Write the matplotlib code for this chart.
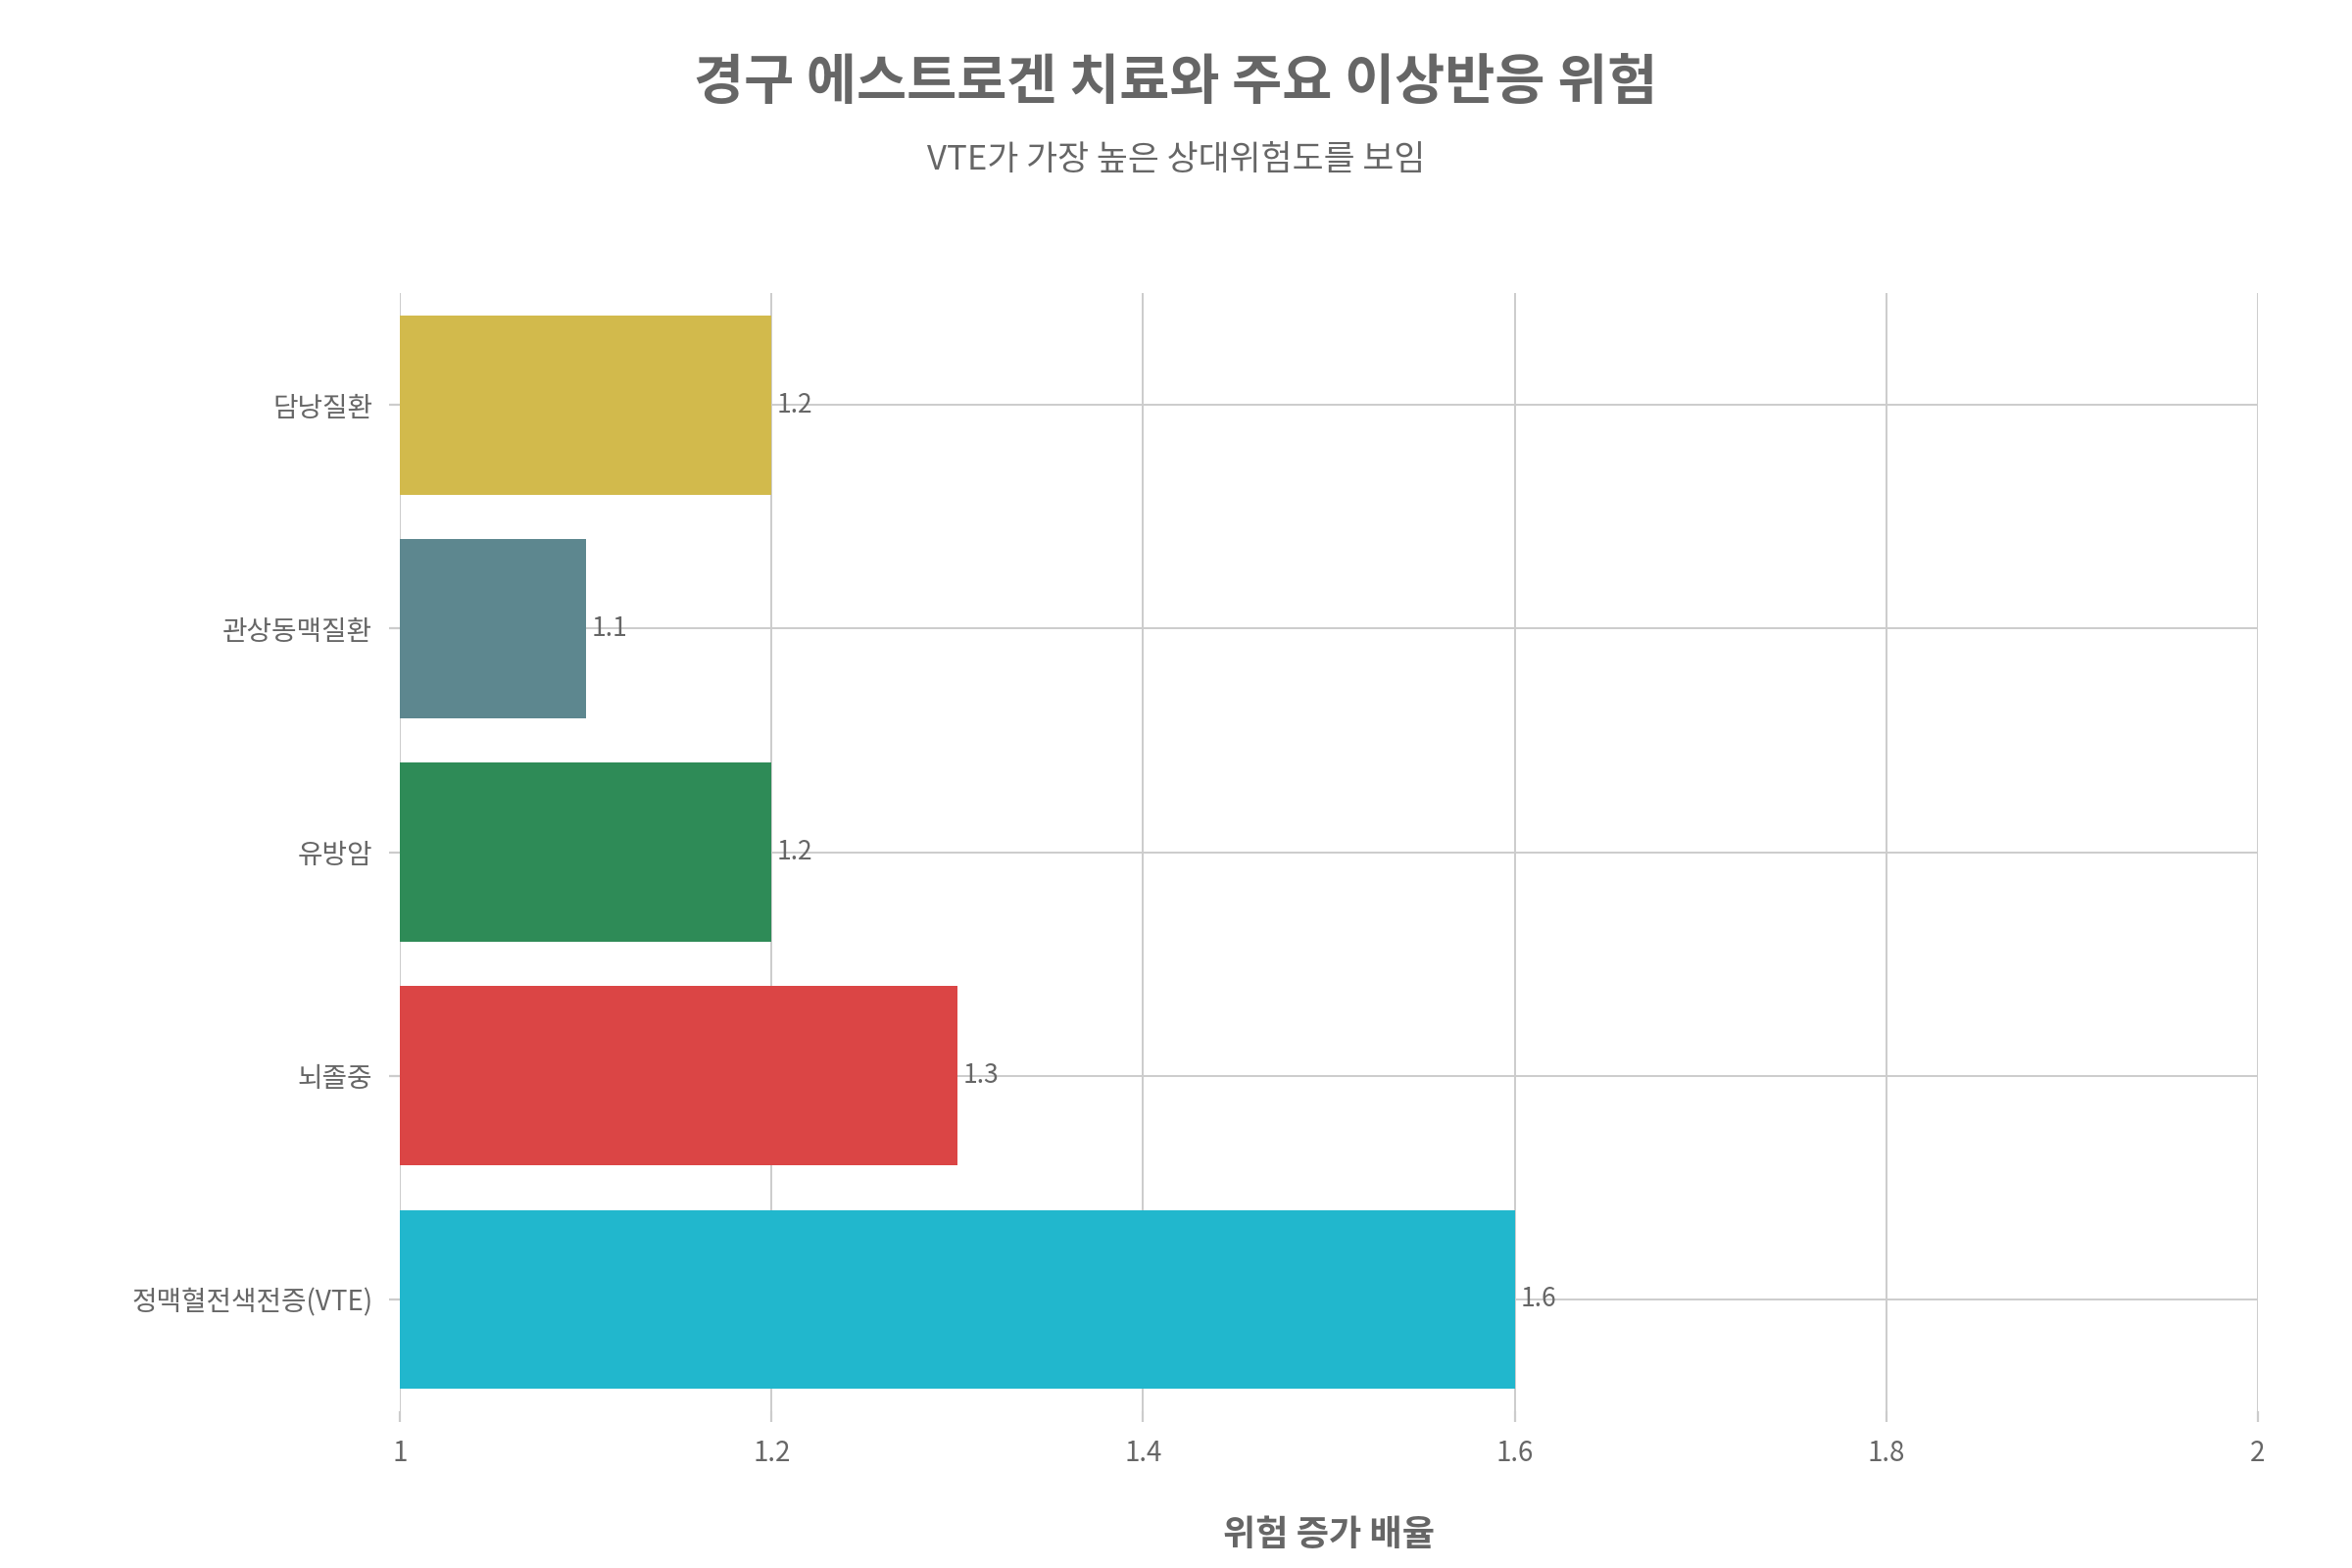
import matplotlib
matplotlib.use("Agg")
import matplotlib.pyplot as plt

categories = ["정맥혈전색전증(VTE)", "뇌졸중", "유방암", "관상동맥질환", "담낭질환"]
values = [1.6, 1.3, 1.2, 1.1, 1.2]
colors = ["#21B7CD", "#DB4545", "#2E8B57", "#5D878F", "#D2BA4C"]
xticks = [1, 1.2, 1.4, 1.6, 1.8, 2]
xticklabels = ["1", "1.2", "1.4", "1.6", "1.8", "2"]

plt.rcParams['font.family'] = ['Noto Sans CJK KR', 'DejaVu Sans']
gray = "#666666"

fig = plt.figure(figsize=(12, 8), dpi=200)
ax = fig.add_axes([0.170, 0.10, 0.790, 0.713])
ys = list(range(len(categories)))
ax.barh(ys, [v - 1 for v in values], left=1, height=0.8, color=colors, zorder=2)
for y, v in zip(ys, values):
    ax.text(v + 0.003, y, f"{v}", va="center", ha="left", fontsize=9.5, color=gray, zorder=3)
ax.set_xlim(1, 2)
ax.set_ylim(-0.5, 4.5)
ax.set_yticks(ys)
ax.set_yticklabels(categories, fontsize=10, color=gray)
ax.set_xticks(xticks)
ax.set_xticklabels(xticklabels, fontsize=10, color=gray)
ax.grid(True, color="#cccccc", linewidth=0.7, zorder=0)
for s in ax.spines.values():
    s.set_visible(False)
ax.tick_params(axis="both", length=4, color="#cccccc", pad=6)
ax.set_xlabel("위험 증가 배율", fontsize=13, color=gray, fontweight="bold", labelpad=18)
fig.text(0.5, 0.947, "경구 에스트로겐 치료와 주요 이상반응 위험", ha="center", va="center",
         fontsize=20, fontweight="bold", color=gray)
fig.text(0.5, 0.898, "VTE가 가장 높은 상대위험도를 보임", ha="center", va="center",
         fontsize=12.5, color=gray)
fig.savefig("out.png", dpi=200, facecolor="white")
